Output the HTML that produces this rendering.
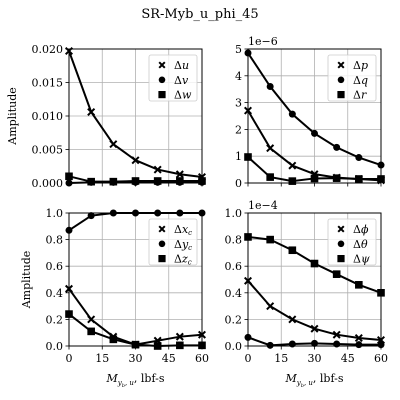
<!DOCTYPE html>
<html><head><meta charset="utf-8"><style>
body{margin:0;background:#fff;}
svg{display:block;font-family:"DejaVu Serif","Liberation Serif",serif;}
</style></head><body>
<svg id="chart" width="400" height="400" viewBox="0 0 400 400" xmlns="http://www.w3.org/2000/svg">
<rect width="400" height="400" fill="#fff"/>
<text x="200" y="18" font-size="13" text-anchor="middle">SR-Myb_u_phi_45</text>
</svg>
<script>
const xValues=[0,10,20,30,40,50,60];
const xTicks=[0,15,30,45,60];
const uVals=[0.0197,0.0106,0.0058,0.0034,0.0020,0.0013,0.0009];
const vVals=[0.0000,0.0001,0.0001,0.0001,0.0001,0.0001,0.0001];
const wVals=[0.0010,0.0002,0.0002,0.0003,0.0003,0.0003,0.0003];
const pVals=[2.7,1.3,0.65,0.33,0.2,0.15,0.1];
const qVals=[4.85,3.6,2.57,1.85,1.33,0.95,0.67];
const rVals=[0.97,0.22,0.07,0.17,0.18,0.15,0.15];
const xcVals=[0.43,0.20,0.07,0.01,0.04,0.07,0.085];
const ycVals=[0.87,0.98,1.0,1.0,1.0,1.0,1.0];
const zcVals=[0.24,0.11,0.05,0.01,0.0,0.005,0.005];
const phiVals=[0.49,0.30,0.20,0.13,0.085,0.06,0.045];
const thetaVals=[0.065,0.005,0.015,0.02,0.015,0.01,0.01];
const psiVals=[0.82,0.80,0.72,0.62,0.54,0.46,0.40];
const tlTicks=[0,0.005,0.010,0.015,0.020];
const tlLabels=["0.000","0.005","0.010","0.015","0.020"];
const trTicks=[0,1,2,3,4,5];
const trLabels=["0","1","2","3","4","5"];
const bTicks=[0,0.2,0.4,0.6,0.8,1.0];
const bLabels=["0.0","0.2","0.4","0.6","0.8","1.0"];

const NS="http://www.w3.org/2000/svg";
const svg=document.getElementById('chart');
function mk(tag,attrs,parent){const e=document.createElementNS(NS,tag);for(const k in attrs)e.setAttribute(k,attrs[k]);(parent||svg).appendChild(e);return e;}

function marker(g,type,x,y,s){
  if(type==='x'){const d=s||3.3;mk('path',{d:`M${x-d} ${y-d}L${x+d} ${y+d}M${x-d} ${y+d}L${x+d} ${y-d}`,stroke:'#000','stroke-width':2},g);}
  else if(type==='o'){mk('circle',{cx:x,cy:y,r:s||3.5,fill:'#000'},g);}
  else {const d=s||3.8;mk('rect',{x:x-d,y:y-d,width:2*d,height:2*d,fill:'#000'},g);}
}

function panel(name,L,R,T,B,ymax,yTicks,yLabels,series,legend,exp,showX,ylab){
  const g=mk('g',{});
  
  
  const sx=v=>L+(v-0)/60*(R-L);
  const sy=v=>B-v/ymax*(B-T);
  // grid
  xTicks.forEach(t=>{mk('line',{x1:sx(t),x2:sx(t),y1:T,y2:B,stroke:'#b0b0b0','stroke-width':0.8},g);});
  yTicks.forEach(t=>{mk('line',{x1:L,x2:R,y1:sy(t),y2:sy(t),stroke:'#b0b0b0','stroke-width':0.8},g);});
  // series
  series.forEach(s=>{
    const sg=mk('g',{},g);
    
    
    mk('polyline',{points:s.vals.map((v,i)=>sx(xValues[i])+','+sy(v)).join(' '),fill:'none',stroke:'#000','stroke-width':2},sg);
    s.vals.forEach((v,i)=>marker(sg,s.m,sx(xValues[i]),sy(v)));
  });
  // frame
  mk('rect',{x:L,y:T,width:R-L,height:B-T,fill:'none',stroke:'#000','stroke-width':1},g);
  // ticks
  xTicks.forEach((t,i)=>{mk('line',{x1:sx(t),x2:sx(t),y1:B,y2:B+3.5,stroke:'#000','stroke-width':0.8},g);
    if(showX){const tx=mk('text',{x:sx(t),y:B+16,'font-size':11,'text-anchor':'middle'},g);tx.textContent=t;}});
  yTicks.forEach((t,i)=>{mk('line',{x1:L-3.5,x2:L,y1:sy(t),y2:sy(t),stroke:'#000','stroke-width':0.8},g);
    const ty=mk('text',{x:L-6,y:sy(t)+4,'font-size':11,'text-anchor':'end'},g);ty.textContent=yLabels[i];});
  if(exp){const e=mk('text',{x:L,y:T-4,'font-size':11},g);e.textContent=exp;}
  if(ylab){const yl=mk('text',{x:ylab,y:(T+B)/2,'font-size':11,'text-anchor':'middle',transform:`rotate(-90 ${ylab} ${(T+B)/2})`},g);yl.textContent='Amplitude';}
  if(showX){const xl=mk('text',{x:(L+R)/2,y:B+36,'font-size':11,'text-anchor':'middle'},g);
    
    xl.innerHTML='<tspan font-style="italic">M</tspan><tspan font-size="7" font-style="italic" dy="3">y</tspan><tspan font-size="5" font-style="italic" dy="2">b</tspan><tspan font-size="7" dy="-2">, </tspan><tspan font-size="7" font-style="italic">u</tspan><tspan dy="-3">, lbf-s</tspan>';}
  // legend
  const lg=mk('g',{},g);
  
  
  const lx=R-53,ly=T+6;
  mk('rect',{x:lx,y:ly,width:48,height:46,rx:2,fill:'#fff','fill-opacity':0.8,stroke:'#ccc','stroke-width':0.8},lg);
  series.forEach((s,i)=>{const yy=ly+10+i*14.8;marker(lg,s.m,lx+13,yy,s.m==='x'?2.8:(s.m==='o'?3.3:3.6));
    const t=mk('text',{x:lx+25,y:yy+4,'font-size':11},lg);t.innerHTML=legend[i];});
}

panel('panel-velocity',69,202,49,183,0.020,tlTicks,tlLabels,
 [{name:'series-du',vals:uVals,m:'x'},{name:'series-dv',vals:vVals,m:'o'},{name:'series-dw',vals:wVals,m:'s'}],
 ['Δ<tspan font-style="italic">u</tspan>','Δ<tspan font-style="italic">v</tspan>','Δ<tspan font-style="italic">w</tspan>'],null,false,16);
panel('panel-rates',248,381,49,183,5,trTicks,trLabels,
 [{name:'series-dp',vals:pVals,m:'x'},{name:'series-dq',vals:qVals,m:'o'},{name:'series-dr',vals:rVals,m:'s'}],
 ['Δ<tspan font-style="italic">p</tspan>','Δ<tspan font-style="italic">q</tspan>','Δ<tspan font-style="italic">r</tspan>'],'1e−6',false,null);
panel('panel-position',69,202,213,346,1.0,bTicks,bLabels,
 [{name:'series-dxc',vals:xcVals,m:'x'},{name:'series-dyc',vals:ycVals,m:'o'},{name:'series-dzc',vals:zcVals,m:'s'}],
 ['Δ<tspan font-style="italic">x</tspan><tspan font-size="7" font-style="italic" dy="2">c</tspan>','Δ<tspan font-style="italic">y</tspan><tspan font-size="7" font-style="italic" dy="2">c</tspan>','Δ<tspan font-style="italic">z</tspan><tspan font-size="7" font-style="italic" dy="2">c</tspan>'],null,true,30);
panel('panel-angles',248,381,213,346,1.0,bTicks,bLabels,
 [{name:'series-dphi',vals:phiVals,m:'x'},{name:'series-dtheta',vals:thetaVals,m:'o'},{name:'series-dpsi',vals:psiVals,m:'s'}],
 ['Δ<tspan font-style="italic">ϕ</tspan>','Δ<tspan font-style="italic">θ</tspan>','Δ<tspan font-style="italic">ψ</tspan>'],'1e−4',true,null);
</script>
</body></html>
